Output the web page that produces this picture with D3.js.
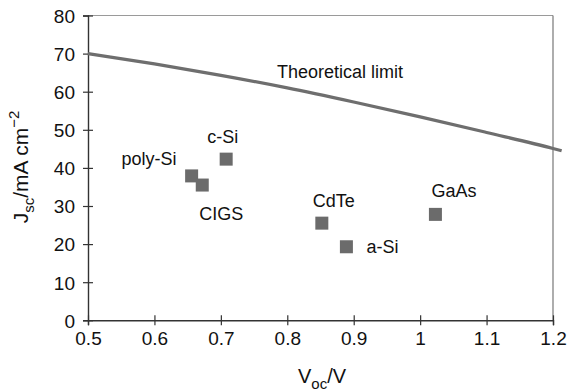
<!DOCTYPE html>
<html><head><meta charset="utf-8">
<script src="https://cdn.jsdelivr.net/npm/d3@7"></script>
<style>
html,body{margin:0;padding:0;background:#fff;}
svg{display:block;font-family:"Liberation Sans",Arial,Helvetica,sans-serif;}
</style></head>
<body>
<svg id="chart" width="567" height="391"></svg>
<script>
// ---- data ----
const materials = ["poly-Si", "CIGS", "c-Si", "CdTe", "a-Si", "GaAs"];
const vocValues = [0.656, 0.672, 0.708, 0.852, 0.889, 1.023];
const jscValues = [37.9, 35.5, 42.3, 25.5, 19.3, 27.8];

const limitVoc = [0.5, 0.6, 0.7, 0.8, 0.9, 1.0, 1.1, 1.2, 1.213];
const limitJsc = [70.0, 67.3, 64.3, 61.0, 57.3, 53.4, 49.3, 45.1, 44.5];

const xTickValues = [0.5, 0.6, 0.7, 0.8, 0.9, 1.0, 1.1, 1.2];
const xTickLabels = ["0.5", "0.6", "0.7", "0.8", "0.9", "1", "1.1", "1.2"];
const yTickValues = [0, 10, 20, 30, 40, 50, 60, 70, 80];
const yTickLabels = ["0", "10", "20", "30", "40", "50", "60", "70", "80"];

// label offsets (style)
const labelOffsets = {
  "poly-Si": [-15, -11, "end"],
  "CIGS": [-3, 35, "start"],
  "c-Si": [-19, -16, "start"],
  "CdTe": [-9, -16, "start"],
  "a-Si": [20, 6, "start"],
  "GaAs": [-4, -17, "start"]
};

const svg = d3.select("#chart");
const x = d3.scaleLinear().domain([0.5, 1.2]).range([88, 553]);
const y = d3.scaleLinear().domain([0, 80]).range([320.3, 15.5]);
const ink = "#111";

// frame top/right
svg.append("line").attr("x1", x(0.5)).attr("x2", x(1.2)).attr("y1", y(80)).attr("y2", y(80))
  .attr("stroke", "#9a9a9a").attr("stroke-width", 1.2);
svg.append("line").attr("x1", x(1.2)).attr("x2", x(1.2)).attr("y1", y(80)).attr("y2", y(0))
  .attr("stroke", "#777").attr("stroke-width", 1.2);

// axes
const xAxis = d3.axisBottom(x).tickValues(xTickValues)
  .tickFormat((d, i) => xTickLabels[i]).tickSizeOuter(0).tickSize(5).tickPadding(6);
const gx = svg.append("g").attr("transform", `translate(0,${y(0)})`).call(xAxis);
gx.selectAll(".tick line").attr("y1", -5).attr("y2", 5);

const yAxis = d3.axisLeft(y).tickValues(yTickValues)
  .tickFormat((d, i) => yTickLabels[i]).tickSizeOuter(0).tickSize(5).tickPadding(8);
const gy = svg.append("g").attr("transform", `translate(${x(0.5)},0)`).call(yAxis);
gy.selectAll(".tick line").attr("x1", -5).attr("x2", 5);

[gx, gy].forEach(g => {
  g.select(".domain").attr("stroke", "#333").attr("stroke-width", 1.4);
  g.selectAll(".tick line").attr("stroke", "#333").attr("stroke-width", 1.2);
  g.selectAll(".tick text").attr("fill", ink).style("font-size", "19px")
    .style("font-family", "'Liberation Sans',Arial,sans-serif");
});
gy.selectAll(".tick text").attr("dy", "0.36em");
gx.selectAll(".tick text").attr("dy", "0.72em");

// theoretical limit curve
const limitData = limitVoc.map((v, i) => [v, limitJsc[i]]);
svg.append("path").datum(limitData)
  .attr("d", d3.line().x(d => x(d[0])).y(d => y(d[1])).curve(d3.curveMonotoneX))
  .attr("fill", "none").attr("stroke", "#6e6e6e").attr("stroke-width", 3.2);

svg.append("text").attr("x", 277).attr("y", 78).text("Theoretical limit")
  .attr("fill", ink).style("font-size", "18px");

// markers
const pts = materials.map((m, i) => ({ m, v: vocValues[i], j: jscValues[i] }));
const s = 13;
svg.append("g").selectAll("rect").data(pts).join("rect")
  .attr("x", d => x(d.v) - s / 2).attr("y", d => y(d.j) - s / 2)
  .attr("width", s).attr("height", s).attr("fill", "#6b6b6b");

svg.append("g").selectAll("text").data(pts).join("text")
  .attr("x", d => x(d.v) + labelOffsets[d.m][0])
  .attr("y", d => y(d.j) + labelOffsets[d.m][1])
  .attr("text-anchor", d => labelOffsets[d.m][2])
  .attr("fill", ink).style("font-size", "18px")
  .text(d => d.m);

// axis titles
const xt = svg.append("text").attr("x", 322).attr("y", 383).attr("text-anchor", "middle")
  .attr("fill", ink).style("font-size", "20px");
xt.append("tspan").text("V");
xt.append("tspan").attr("dy", 6).style("font-size", "15px").text("oc");
xt.append("tspan").attr("dy", -6).text("/V");

const yt = svg.append("text").attr("transform", "translate(28,167) rotate(-90)")
  .attr("text-anchor", "middle").attr("fill", ink).style("font-size", "21px");
yt.append("tspan").text("J");
yt.append("tspan").attr("dy", 6).style("font-size", "15px").text("sc");
yt.append("tspan").attr("dy", -6).text("/mA cm");
yt.append("tspan").attr("dy", -9).style("font-size", "15px").text("−2");
</script>
</body></html>
